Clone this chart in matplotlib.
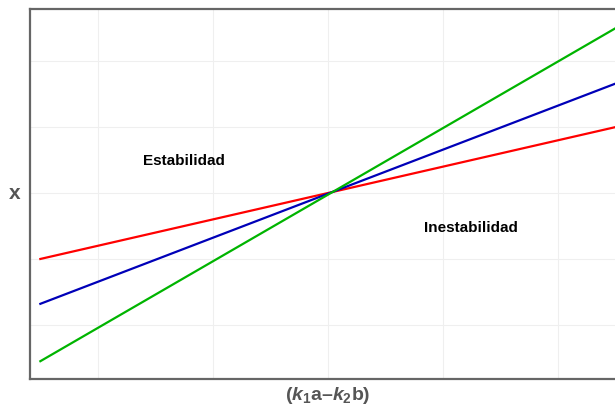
import matplotlib
matplotlib.use('Agg')
import matplotlib.pyplot as plt

# datos de las rectas (todas se cruzan en el centro)
x_vals = [-2.5, 2.5]
y_rojo = [-1.0, 1.0]
y_azul = [-1.68, 1.66]
y_verde = [-2.55, 2.5]

plt.rcParams['font.family'] = ['Liberation Sans', 'DejaVu Sans']
plt.rcParams['mathtext.fontset'] = 'custom'
plt.rcParams['mathtext.rm'] = 'Liberation Sans:bold'
plt.rcParams['mathtext.bf'] = 'Liberation Sans:bold'
plt.rcParams['mathtext.it'] = 'Liberation Sans:bold:italic'

fig = plt.figure(figsize=(6.15, 4.06), dpi=100)
ax = fig.add_axes([30/615, 1 - 380/406, 596/615, 370/406])

ax.plot(x_vals, y_rojo, color='#ff0000', lw=1.6)
ax.plot(x_vals, y_azul, color='#0000b8', lw=1.6)
ax.plot(x_vals, y_verde, color='#00b400', lw=1.6)

ax.set_xlim(-2.59, 2.59)
ax.set_ylim(-2.82, 2.79)

# rejilla muy suave, sin marcas
ax.set_xticks([-2, 0, 2])
ax.set_xticks([-1, 1], minor=True)
ax.set_yticks([-2, -1, 0, 1, 2])
ax.grid(True, which='both', color='#efefef', lw=0.8)
ax.set_axisbelow(True)
ax.tick_params(which='both', length=0, labelbottom=False, labelleft=False)
for s in ax.spines.values():
    s.set_color('#666666')
    s.set_linewidth(1.6)

ax.text(-1.25, 0.5, 'Estabilidad', ha='center', va='center', fontsize=11, fontweight='bold')
ax.text(1.24, -0.52, 'Inestabilidad', ha='center', va='center', fontsize=11, fontweight='bold')

fig.text(15/615, 1 - 194/406, 'x', ha='center', va='center', fontsize=15,
         fontweight='bold', color='#555555')
fig.text(328/615, 1 - 396/406, r'($k_1$a–$k_2$b)', ha='center', va='center',
         fontsize=14, fontweight='bold', color='#555555')

fig.savefig('out.png', dpi=100)
